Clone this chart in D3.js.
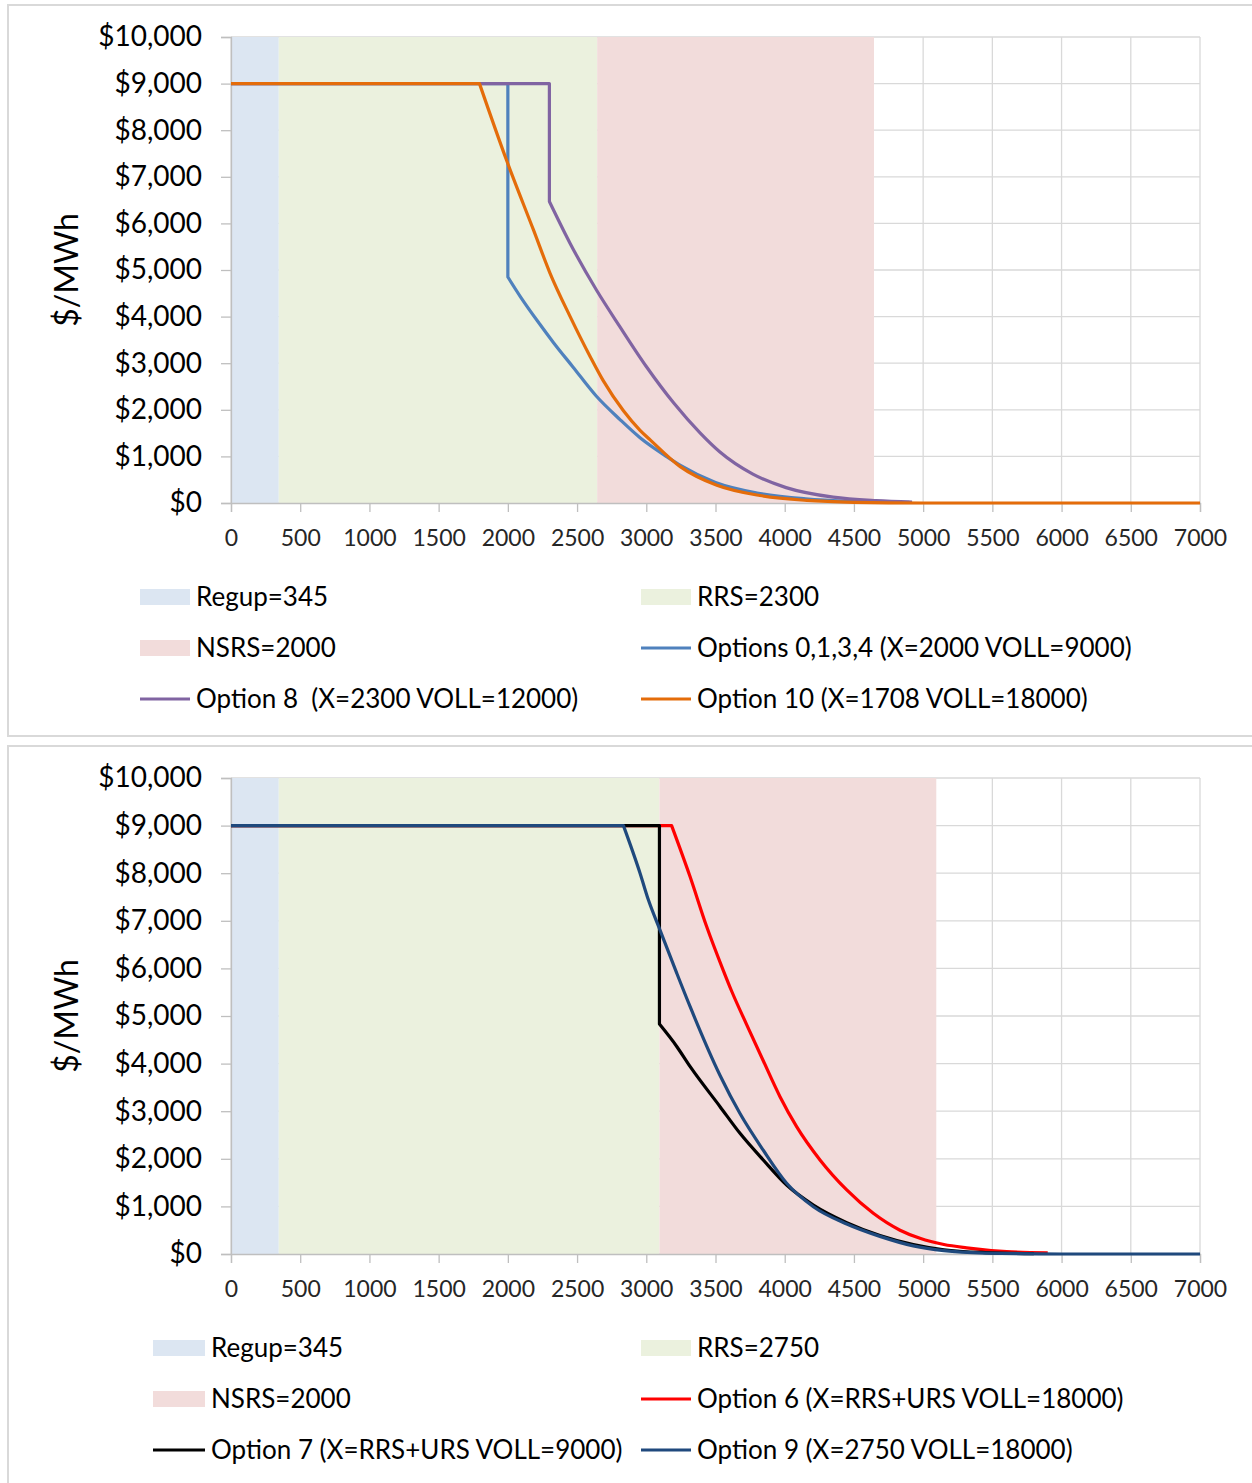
<!DOCTYPE html>
<html><head><meta charset="utf-8">
<script src="https://cdn.jsdelivr.net/npm/d3@7/dist/d3.min.js"></script>
<style>
body{margin:0;background:#fff;}
svg{display:block;font-family:Lato,"Liberation Sans",sans-serif;}
</style>
</head><body>
<svg id="chart" width="1252" height="1483"></svg>
<script>
// ---------- DATA ----------
const xTicks = [0,500,1000,1500,2000,2500,3000,3500,4000,4500,5000,5500,6000,6500,7000];
const yTicks = [0,1000,2000,3000,4000,5000,6000,7000,8000,9000,10000];
const yTitle = "$/MWh";

const bandNames = ["Regup","RRS","NSRS"];
const topBandSizes = [345,2300,2000];
const bottomBandSizes = [345,2750,2000];

const topSeriesNames = ["Options 0,1,3,4 (X=2000 VOLL=9000)","Option 8  (X=2300 VOLL=12000)","Option 10 (X=1708 VOLL=18000)"];
const topOption0134 = [[0,9000],[2000,9000],[2000,4850],[2090,4430],[2230,3840],[2330,3440],[2470,2920],[2640,2290],[2810,1790],[2955,1400],[3150,990],[3250,800],[3500,440],[3800,215],[4150,90],[4500,35],[4900,12]];
const topOption8 = [[0,9000],[2300,9000],[2300,6470],[2450,5570],[2640,4570],[2810,3780],[3000,2930],[3200,2140],[3390,1500],[3530,1100],[3770,620],[4010,330],[4350,125],[4660,50],[4920,20]];
const topOption10 = [[0,9000],[1795,9000],[1990,7360],[2185,5860],[2305,4930],[2450,4000],[2595,3140],[2690,2620],[2835,1980],[2955,1560],[3030,1350],[3245,780],[3510,380],[3820,160],[4160,55],[4500,15],[5000,0],[7000,0]];

const bottomSeriesNames = ["Option 6 (X=RRS+URS VOLL=18000)","Option 7 (X=RRS+URS VOLL=9000)","Option 9 (X=2750 VOLL=18000)"];
const bottomOption6 = [[0,9000],[3183,9000],[3316,7930],[3436,6880],[3556,5960],[3617,5520],[3725,4820],[3845,4060],[3966,3305],[4086,2675],[4255,1975],[4448,1345],[4640,855],[4833,500],[4977,330],[5150,200],[5314,130],[5603,50],[5900,25]];
const bottomOption7 = [[0,9000],[3095,9000],[3095,4830],[3220,4360],[3316,3940],[3533,3095],[3677,2535],[3845,1975],[4014,1450],[4207,1029],[4448,660],[4688,390],[4929,200],[5150,90],[5450,30],[5800,8]];
const bottomOption9 = [[0,9000],[2835,9000],[2955,8000],[3015,7440],[3100,6800],[3220,5900],[3316,5200],[3533,3750],[3677,2950],[3845,2180],[4014,1485],[4207,994],[4448,630],[4688,370],[4929,170],[5150,70],[5450,20],[6000,0],[7000,0]];

// ---------- STYLE / LAYOUT ----------
const bandColors = ["#dce6f2","#ebf1de","#f2dcdb"];
const topLineColors = ["#4f81bd","#8064a2","#e46c0a"];
const bottomLineColors = ["#ff0000","#000000","#1f497d"];
const gridColor = "#d9d9d9";

const svg = d3.select("#chart");

// panel frames
svg.append("rect").attr("x",8).attr("y",5).attr("width",1260).attr("height",731)
  .attr("fill","#fff").attr("stroke","#d9d9d9").attr("stroke-width",2);
svg.append("rect").attr("x",8).attr("y",746).attr("width",1260).attr("height",760)
  .attr("fill","#fff").attr("stroke","#d9d9d9").attr("stroke-width",2);

function drawPanel(cfg){
  const x = d3.scaleLinear().domain([0,7000]).range([231,1200]);
  const y = d3.scaleLinear().domain([0,10000]).range([cfg.y0, cfg.y1]);
  const g = svg.append("g");

  // gridlines
  g.append("g").selectAll("line").data(yTicks).join("line")
    .attr("x1",x(0)).attr("x2",x(7000)).attr("y1",d=>y(d)).attr("y2",d=>y(d))
    .attr("stroke",gridColor).attr("stroke-width",1.3);
  g.append("g").selectAll("line").data(xTicks).join("line")
    .attr("x1",d=>x(d)).attr("x2",d=>x(d)).attr("y1",y(10000)).attr("y2",y(0))
    .attr("stroke",gridColor).attr("stroke-width",1.3);

  // bands
  let acc = 0;
  const bands = cfg.bandSizes.map((s,i)=>{const b={from:acc,to:acc+s,i}; acc+=s; return b;});
  g.append("g").selectAll("rect").data(bands).join("rect")
    .attr("x",d=>x(d.from)).attr("width",d=>x(d.to)-x(d.from))
    .attr("y",y(10000)).attr("height",y(0)-y(10000))
    .attr("fill",d=>bandColors[d.i]);

  // axes
  const ya = d3.axisLeft(y).tickValues(yTicks).tickSize(10).tickPadding(19)
    .tickFormat(d=>"$"+d3.format(",")(d));
  const yg = g.append("g").attr("transform",`translate(${x(0)},0)`).call(ya);
  yg.select(".domain").attr("stroke","#bfbfbf").attr("stroke-width",1.3);
  yg.selectAll(".tick line").attr("stroke","#bfbfbf").attr("stroke-width",1.3);
  yg.selectAll(".tick text").attr("font-size",28).attr("fill","#000").attr("font-family","Lato");

  const xa = d3.axisBottom(x).tickValues(xTicks).tickSize(9).tickFormat(d=>d);
  const xg = g.append("g").attr("transform",`translate(0,${y(0)})`).call(xa);
  xg.select(".domain").attr("stroke","#bfbfbf").attr("stroke-width",1.3);
  xg.selectAll(".tick line").attr("stroke","#bfbfbf").attr("stroke-width",1.3);
  xg.selectAll(".tick text").attr("font-size",23).attr("fill","#262626").attr("font-family","Lato")
    .attr("y",35).attr("dy","0.35em");

  // y title
  g.append("text").attr("transform",`translate(78,${(y(0)+y(10000))/2}) rotate(-90)`)
    .attr("text-anchor","middle").attr("font-size",32).attr("fill","#000").text(yTitle);

  // lines: straight flat/vertical part, smooth monotone decline
  const lin = d3.line().x(d=>x(d[0])).y(d=>y(d[1]));
  const smooth = d3.line().x(d=>x(d[0])).y(d=>y(d[1])).curve(d3.curveMonotoneX);
  cfg.order.forEach(i=>{
    const pts = cfg.series[i];
    let k = 0;
    for(let j=0;j<pts.length-1;j++){
      if(pts[j+1][0]>pts[j][0] && pts[j+1][1]<pts[j][1]){k=j;break;}
    }
    const d = lin(pts.slice(0,k+1)) + "L" + smooth(pts.slice(k)).slice(1);
    g.append("path").attr("d",d)
      .attr("fill","none").attr("stroke",cfg.colors[i]).attr("stroke-width",3.2)
      .attr("stroke-linejoin","round");
  });

  // legend
  const leg = g.append("g");
  const items = [
    {type:"band",i:0,label:bandNames[0]+"="+cfg.bandSizes[0]},
    {type:"band",i:1,label:bandNames[1]+"="+cfg.bandSizes[1]},
    {type:"band",i:2,label:bandNames[2]+"="+cfg.bandSizes[2]},
    ...cfg.legendLines
  ];
  items.forEach((it,k)=>{
    const col = k%2, row = Math.floor(k/2);
    const sx = col===0 ? cfg.legX0 : 641;
    const sw = col===0 ? cfg.legW0 : 50;
    const cy = cfg.legY + row*51;
    if(it.type==="band"){
      leg.append("rect").attr("x",sx).attr("y",cy-8).attr("width",sw).attr("height",16)
        .attr("fill",bandColors[it.i]);
    } else {
      leg.append("line").attr("x1",sx).attr("x2",sx+sw).attr("y1",cy).attr("y2",cy)
        .attr("stroke",cfg.colors[it.i]).attr("stroke-width",3.2);
    }
    leg.append("text").attr("x",sx+sw+6).attr("y",cy).attr("dy","0.35em")
      .attr("font-size",26).attr("fill","#000").style("white-space","pre").text(it.label);
  });
}

drawPanel({
  y0:503, y1:37, bandSizes:topBandSizes,
  series:[topOption0134, topOption8, topOption10], colors:topLineColors, order:[0,1,2],
  legX0:140, legW0:50, legY:597,
  legendLines:[{type:"line",i:0,label:topSeriesNames[0]},{type:"line",i:1,label:topSeriesNames[1]},{type:"line",i:2,label:topSeriesNames[2]}]
});
drawPanel({
  y0:1254, y1:778, bandSizes:bottomBandSizes,
  series:[bottomOption6, bottomOption7, bottomOption9], colors:bottomLineColors, order:[0,1,2],
  legX0:153, legW0:52, legY:1348,
  legendLines:[{type:"line",i:0,label:bottomSeriesNames[0]},{type:"line",i:1,label:bottomSeriesNames[1]},{type:"line",i:2,label:bottomSeriesNames[2]}]
});
</script>
</body></html>
